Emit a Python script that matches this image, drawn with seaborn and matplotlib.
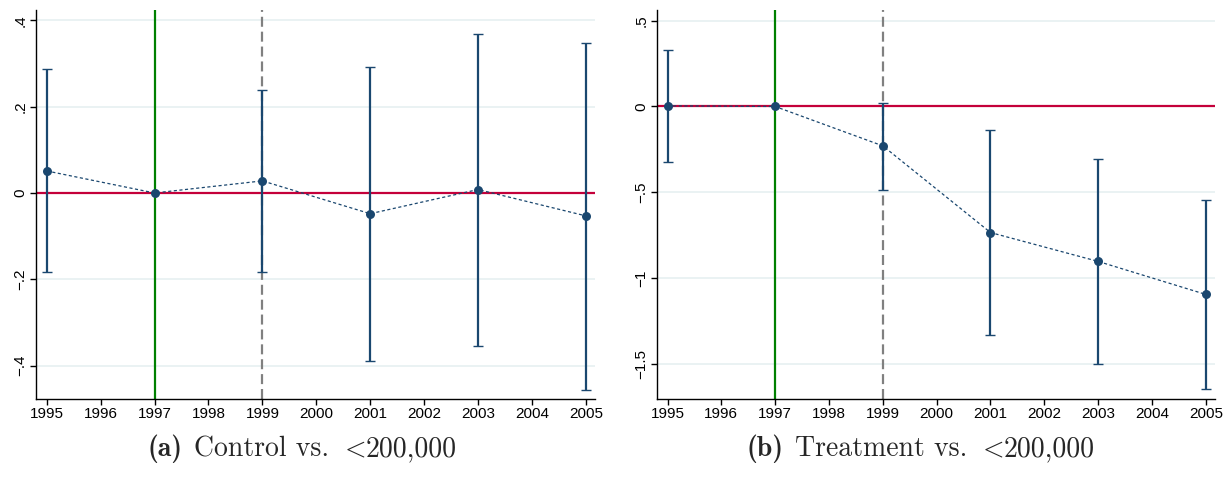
import numpy as np
import pandas as pd
import matplotlib
matplotlib.use("Agg")
import matplotlib.pyplot as plt
import seaborn as sns

sns.set_theme(style="white")
plt.rcParams["font.family"] = ["Liberation Sans", "DejaVu Sans"]
plt.rcParams["mathtext.fontset"] = "cm"

years = [1995, 1997, 1999, 2001, 2003, 2005]
xtick_years = list(range(1995, 2006))

# Panel (a): Control vs. <200,000
ctrl_coef = [0.051, 0.0, 0.028, -0.048, 0.008, -0.053]
ctrl_lo = [-0.184, np.nan, -0.184, -0.389, -0.354, -0.456]
ctrl_hi = [0.286, np.nan, 0.238, 0.292, 0.368, 0.348]
ctrl_yticks = [-0.4, -0.2, 0.0, 0.2, 0.4]
ctrl_yticklabels = ["\u2212.4", "\u2212.2", "0", ".2", ".4"]

# Panel (b): Treatment vs. <200,000
treat_coef = [0.004, 0.0, -0.229, -0.733, -0.901, -1.093]
treat_lo = [-0.322, np.nan, -0.483, -1.326, -1.496, -1.645]
treat_hi = [0.330, np.nan, 0.023, -0.137, -0.306, -0.541]
treat_yticks = [-1.5, -1.0, -0.5, 0.0, 0.5]
treat_yticklabels = ["\u22121.5", "\u22121", "\u2212.5", "0", ".5"]

caption_tags = ["(a)", "(b)"]
caption_texts = ["Control vs.", "Treatment vs."]
caption_threshold = "200,000"

navy = "#1a476f"
grid_col = "#eaf2f3"

fig = plt.figure(figsize=(12.28, 4.93), dpi=100)
ax_a = fig.add_axes([0.0293, 0.1907, 0.4552, 0.7893])
ax_b = fig.add_axes([0.5348, 0.1907, 0.4546, 0.7893])

panels = [
    (ax_a, ctrl_coef, ctrl_lo, ctrl_hi, ctrl_yticks, ctrl_yticklabels, (-0.477, 0.424)),
    (ax_b, treat_coef, treat_lo, treat_hi, treat_yticks, treat_yticklabels, (-1.701, 0.562)),
]

for ax, coef, lo, hi, yt, ytl, ylim in panels:
    df = pd.DataFrame({"year": years, "coef": coef, "lo": lo, "hi": hi})
    for y in yt:
        ax.axhline(y, color=grid_col, lw=1.4, zorder=0)
    ax.axhline(0, color="#c4003a", lw=1.6, zorder=1)
    ax.axvline(1997, color="#008000", lw=1.6, zorder=1)
    ax.axvline(1999, color="#808080", lw=1.6, ls=(0, (4.5, 2.2)), zorder=1)

    ci = df.dropna()
    ax.errorbar(ci["year"], (ci["lo"] + ci["hi"]) / 2,
                yerr=(ci["hi"] - ci["lo"]) / 2, fmt="none",
                ecolor=navy, elinewidth=1.6, capsize=3.5, capthick=1.0, zorder=3)
    sns.lineplot(data=df, x="year", y="coef", ax=ax, color=navy, lw=0.9,
                 linestyle=(0, (2.5, 2)), zorder=4)
    sns.scatterplot(data=df, x="year", y="coef", ax=ax, color=navy, s=42,
                    edgecolor=navy, linewidth=0, zorder=5)

    ax.set_xlim(1994.8, 2005.17)
    ax.set_ylim(*ylim)
    ax.set_xticks(xtick_years)
    ax.set_xticklabels([str(y) for y in xtick_years])
    ax.set_yticks(yt)
    ax.set_yticklabels(ytl, rotation=90, va="center")
    ax.set_xlabel("")
    ax.set_ylabel("")
    for s in ["top", "right"]:
        ax.spines[s].set_visible(False)
    for s in ["left", "bottom"]:
        ax.spines[s].set_color("black")
        ax.spines[s].set_linewidth(1.0)
    ax.tick_params(axis="both", which="major", direction="out", length=4,
                   width=1.0, color="black", labelsize=11, labelcolor="black",
                   pad=2, left=True, bottom=True)

# Sub-captions: bold tag, roman description, "<" and the threshold,
# laid out left to right and centred as a unit
renderer = fig.canvas.get_renderer()
cap_size = 20
cap_y = 0.075
gaps_px = [12, 11, -1]
for centre, tag, txt in zip([0.2457, 0.7495], caption_tags, caption_texts):
    parts = [
        fig.text(0, cap_y, tag, ha="left", va="baseline", fontsize=cap_size, family="cmb10"),
        fig.text(0, cap_y, txt, ha="left", va="baseline", fontsize=cap_size, family="cmr10"),
        fig.text(0, cap_y, r"$<$", ha="left", va="baseline", fontsize=cap_size),
        fig.text(0, cap_y, caption_threshold, ha="left", va="baseline",
                 fontsize=cap_size, family="cmr10"),
    ]
    widths = [p.get_window_extent(renderer).width for p in parts]
    total = sum(widths) + sum(gaps_px)
    x = centre * fig.bbox.width - total / 2
    for p, w, g in zip(parts, widths, gaps_px + [0]):
        p.set_x(x / fig.bbox.width)
        x += w + g

fig.savefig("out.png", dpi=100, facecolor="white")
